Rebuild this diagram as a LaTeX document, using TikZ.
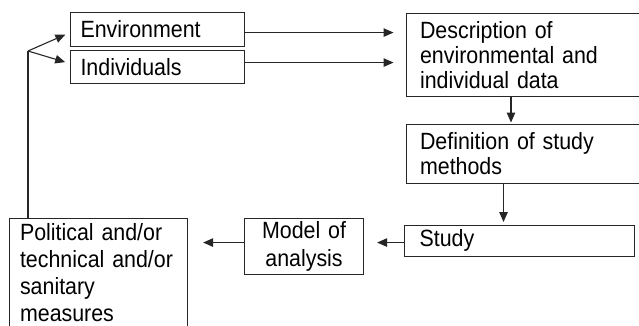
\documentclass[tikz,border=0pt]{standalone}
\usepackage{fontspec}
\setmainfont{Liberation Sans}[FakeStretch=0.91]
\usetikzlibrary{calc,arrows.meta}
\DeclareRobustCommand\boxfont[1]{\fontsize{23.5}{#1}\selectfont\spaceskip=4.6pt\relax}

\begin{document}
\begin{tikzpicture}[x=1pt, y=-1pt, >={Triangle[length=10pt,width=8.5pt]},
        box/.style={draw=black!85, line width=1.1pt, anchor=north west, align=left,
            inner ysep=0pt, font=\boxfont{25}},
        link/.style={->, line width=1.1pt, black!85}]
        % Picture frame
        \clip (0,0) rectangle (639,325);

        % Inputs
        \node[box, inner xsep=10pt, text width=154pt, minimum height=34pt] (env) at (70,12) {Environment};
        \node[box, inner xsep=10pt, text width=154pt, minimum height=33pt] (ind) at (70,50) {Individuals};

        % Right column
        \node[box, inner xsep=14pt, text width=232pt, minimum height=83.5pt] (desc) at (405.5,12.7)
            {Description of\\environmental and\\individual data};
        \node[box, inner xsep=14pt, text width=232pt, minimum height=59.5pt] (def) at (405.5,123.5)
            {Definition of study\\methods};
        \node[box, inner xsep=15pt, text width=200pt, minimum height=31.5pt] (study) at (404,224.5) {Study};

        % Bottom row
        \node[box, align=center, inner xsep=8pt, text width=103pt, minimum height=56pt,
            font=\boxfont{27.5}] (model) at (244,218) {Model of\\analysis};
        \node[box, inner xsep=10.5pt, text width=157pt, minimum height=109pt,
            font=\boxfont{27}] (pol) at (9,218)
            {Political and/or\\technical and/or\\sanitary\\measures};

        % Inputs to description
        \coordinate (envout) at ([yshift=-3pt]env.east);
        \coordinate (indout) at ([yshift=4.5pt]ind.east);
        \draw[link, shorten >=12pt] (envout) -- (envout -| desc.west);
        \draw[link, shorten >=12pt] (indout) -- (indout -| desc.west);

        % Down the right column
        \coordinate (descout) at ([xshift=105.5pt]desc.south west);
        \coordinate (defout) at ([xshift=98pt]def.south west);
        \draw[link, shorten >=1pt] (descout) -- (descout |- def.north);
        \draw[link, shorten >=2.5pt] (defout) -- (defout |- study.north);

        % Back along the bottom
        \coordinate (studyout) at ([yshift=-1.75pt]study.west);
        \coordinate (modelout) at ([yshift=4pt]model.west);
        \draw[link, shorten >=13pt] (studyout) -- (studyout -| model.east);
        \draw[link, shorten >=15pt] (modelout) -- (modelout -| pol.east);

        % Feedback to the inputs
        \coordinate (fork) at (28,51);
        \draw[line width=1.1pt, black!85] (fork |- pol.north) -- (fork);
        \draw[link, shorten >=5pt] (fork) -- ([yshift=-3pt]env.west);
        \draw[link, shorten >=5pt] (fork) -- ([yshift=3.5pt]ind.west);
    \end{tikzpicture}
\end{document}
